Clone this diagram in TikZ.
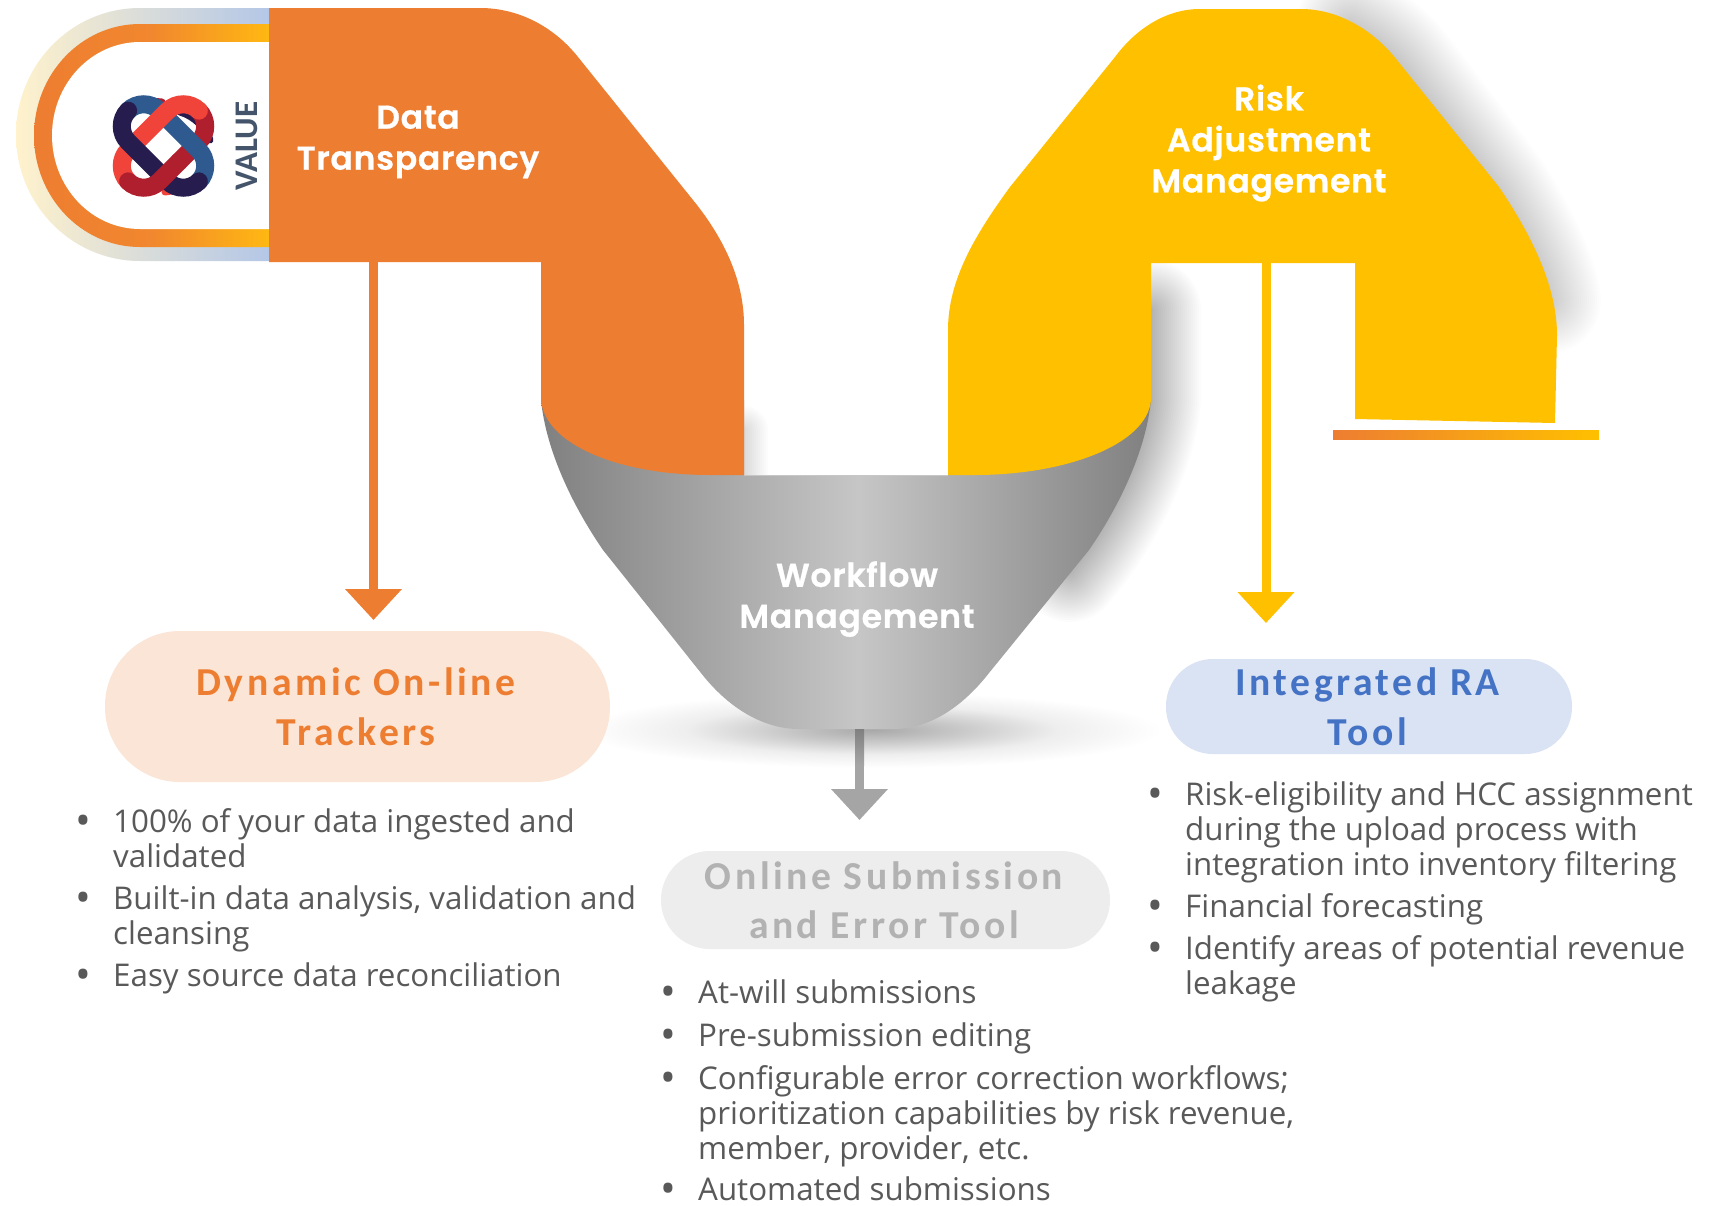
\documentclass[tikz,border=0pt]{standalone}
\usepackage{fontspec}
\usetikzlibrary{arrows.meta}
\setmainfont{Open Sans}
\newfontfamily\titlefont[LetterSpace=2.2,FakeBold=0.7]{Poppins SemiBold}
\newfontfamily\headfont[LetterSpace=9]{Carlito}
\newfontfamily\valuefont{Carlito}
\definecolor{cOrange}{HTML}{ED7D31}
\definecolor{cYellow}{HTML}{FFC000}
\definecolor{cGreyArrow}{HTML}{A5A5A5}
\definecolor{cBody}{HTML}{595959}
\definecolor{cNavy}{HTML}{261C4E}
\definecolor{cBlue}{HTML}{2F5A8F}
\definecolor{cRed}{HTML}{F0443A}
\definecolor{cDark}{HTML}{B01F2E}
\definecolor{fEdge}{HTML}{808080}
\definecolor{fMid}{HTML}{C6C6C6}
\definecolor{sA}{HTML}{A8A8A8}
\definecolor{sB}{HTML}{CACACA}
\definecolor{sC}{HTML}{EEEEEE}
\pgfdeclarehorizontalshading{funnelshade}{100bp}{color(0bp)=(fEdge); color(25bp)=(fEdge); color(51bp)=(fMid); color(75bp)=(fEdge); color(100bp)=(fEdge)}
\pgfdeclareradialshading{softell}{\pgfpoint{0bp}{0bp}}{color(0bp)=(sA); color(8bp)=(sB); color(16bp)=(sC); color(25bp)=(white); color(50bp)=(white)}
\tikzset{
  x=1pt,y=-1pt,
  titletext/.style={text=white,align=center,font=\titlefont\fontsize{33}{41}\selectfont},
  pilltext/.style={align=center,font=\headfont\bfseries\fontsize{39.6}{49.5}\selectfont},
  itemtext/.style={anchor=north west,inner sep=0pt,text=cBody,align=left,font=\fontsize{31.3}{35}\selectfont},
  itemdot/.style={anchor=center,inner sep=0pt,text=cBody,font=\fontsize{42}{35}\selectfont},
  flowarrow/.style={line width=9pt,-{Triangle[width=55pt,length=31pt]}},
  softshadow/.style={line cap=round,line join=round,draw=black,draw opacity=0.009},
  softshadowb/.style={line cap=round,line join=round,draw=black,draw opacity=0.011},
  logoband/.style={line width=18pt,line cap=round},
  logostrand/.style={line width=7pt,line cap=round}
}
\newcommand{\bulitem}[4]{%
  \node[itemdot] (#1dot) at (#2-30,#3+17) {•};
  \node[itemtext] (#1) at (#2,#3) {\rule{0pt}{24.5pt}#4};}
\begin{document}
\begin{tikzpicture}
\useasboundingbox (0,0) rectangle (1721,1205);
\fill[white] (0,0) rectangle (1721,1205);
% soft shadows
\foreach \w in {4,8,...,110}{\draw[softshadow,line width=\w pt] (1350,25) .. controls (1365,33) and (1385,45) .. (1400,62) -- (1497,190) .. controls (1528,240) and (1545,280) .. (1547,300);}
\foreach \w in {4,8,...,100}{\draw[softshadowb,line width=\w pt] (1151,310) -- (1151,400) .. controls (1146,450) and (1120,505) .. (1086,552) -- (1070,572);}
\foreach \w in {4,8,...,50}{\draw[softshadowb,line width=\w pt] (744,430) -- (744,475);}
\path[shading=softell] (872,730) ellipse [x radius=290,y radius=38];
% funnel
\path[shading=funnelshade] (541,400) .. controls (546,450) and (572,505) .. (603,550) -- (701,673) .. controls (730,710) and (765,729) .. (799,729) -- (893,729) .. controls (927,729) and (960,710) .. (989,673) -- (1089,550) .. controls (1120,505) and (1146,450) .. (1151,400) -- (948,400) -- (948,475) -- (744,475) -- (744,400) -- cycle;
\draw[fMid,line width=1pt] (744,475) -- (948,475);
% value ring
\shade[left color={rgb,255:red,255;green,242;blue,204},right color={rgb,255:red,180;green,199;blue,231}] (269,8) -- (140,8) arc[start angle=90,end angle=270,x radius=124,y radius=-126.5] -- (269,261) -- cycle;
\shade[left color=cOrange,right color={rgb,255:red,255;green,184;blue,18},middle color={rgb,255:red,241;green,135;blue,46}] (269,24) -- (140,24) arc[start angle=90,end angle=270,x radius=106,y radius=-111.5] -- (269,247) -- cycle;
\fill[white] (269,42) -- (140,42) arc[start angle=90,end angle=270,x radius=88,y radius=-93.5] -- (269,229) -- cycle;
% logo
\draw[logostrand,cDark] (128,118) .. controls (136,106) and (150,100) .. (162,102);
\draw[logostrand,cRed] (165,192) .. controls (180,190) and (192,186) .. (198,175);
\draw[logostrand,cNavy] (180,112) .. controls (194,116) and (206,128) .. (210,140);
\draw[logostrand,cBlue] (120,155) .. controls (121,168) and (126,178) .. (135,184);
\begin{scope}[shift={(163.5,146)},rotate=45]
\draw[logoband,cDark] (0,22) -- (28,22) .. controls (40,22) and (50,12) .. (50,0);
\draw[logoband,cBlue] (0,-50) .. controls (12,-50) and (22,-40) .. (22,-28) -- (22,28) .. controls (22,40) and (12,50) .. (0,50);
\draw[logoband,cRed] (50,0) .. controls (50,-12) and (40,-22) .. (28,-22) -- (-28,-22) .. controls (-40,-22) and (-50,-12) .. (-50,0);
\draw[logoband,cNavy] (0,-50) .. controls (-12,-50) and (-22,-40) .. (-22,-28) -- (-22,28) .. controls (-22,40) and (-12,50) .. (0,50);
\draw[logoband,cDark] (-50,0) .. controls (-50,12) and (-40,22) .. (-28,22) -- (0,22);
\end{scope}
\node[rotate=90,text={rgb,255:red,68;green,84;blue,106},font=\valuefont\bfseries\fontsize{33}{33}\selectfont,inner sep=0pt] (value) at (247,146) {VALUE};
% orange band
\fill[cOrange] (269,8) -- (480,8) .. controls (520,8) and (555,28) .. (578,57) -- (697,205) .. controls (728,245) and (744,285) .. (744,325) -- (744,475) -- (710,475) .. controls (620,475) and (545,445) .. (541,400) -- (541,262) -- (269,262) -- cycle;
% yellow band
\fill[cYellow] (1200,9) -- (1301,9) .. controls (1340,9) and (1375,32) .. (1397,60) -- (1499,187) .. controls (1535,240) and (1557,290) .. (1557,335) -- (1555,423) -- (1355,419) -- (1355,263) -- (1151,263) -- (1151,400) .. controls (1147,445) and (1065,475) .. (975,475) -- (948,475) -- (948,330) .. controls (948,280) and (975,235) .. (1010,187) -- (1115,57) .. controls (1135,30) and (1165,9) .. (1200,9) -- cycle;
\shade[left color=cOrange,right color=cYellow] (1333,430) rectangle (1599,439);
% band titles
\node[titletext] (data) at (418,142) {Data\\Transparency};
\node[titletext] (risk) at (1269,143) {Risk\\Adjustment\\Management};
\node[titletext] (flow) at (857,599) {Workflow\\Management};
% pills
\node[fill={rgb,255:red,251;green,229;blue,214},rounded corners=75pt,minimum width=505pt,minimum height=151pt,inner sep=0pt,text=cOrange,pilltext] (dyn) at (357.5,706.5) {\kern-3pt Dynamic On-line\\\kern-3pt Trackers};
\node[fill={rgb,255:red,218;green,227;blue,243},rounded corners=47pt,minimum width=406pt,minimum height=95pt,inner sep=0pt,text={rgb,255:red,68;green,114;blue,196},pilltext] (ra) at (1369,706.5) {\kern-3pt Integrated RA\\\kern-3pt Tool};
\node[fill={rgb,255:red,237;green,237;blue,237},rounded corners=49pt,minimum width=449pt,minimum height=98pt,inner sep=0pt,text={rgb,255:red,178;green,178;blue,178},pilltext] (sub) at (885.5,900) {\kern-3pt Online Submission\\\kern-3pt and Error Tool};
% arrows
\coordinate (aStart) at (373.5,262);
\coordinate (aEnd) at (373.5,620);
\coordinate (bStart) at (1266,263);
\coordinate (bEnd) at (1266,623);
\coordinate (cStart) at (859.5,729);
\coordinate (cEnd) at (859.5,820);
\draw[flowarrow,cOrange] (aStart) -- (aEnd);
\draw[flowarrow,cYellow] (bStart) -- (bEnd);
\draw[flowarrow,cGreyArrow] (cStart) -- (cEnd);
\shade[top color=fEdge,bottom color=cGreyArrow] (855,729) rectangle (864,765);
% bullet lists
\bulitem{l1}{113}{808}{100\% of your data ingested and\\validated}
\bulitem{l2}{113}{885}{Built-in data analysis, validation and\\cleansing}
\bulitem{l3}{113}{962}{Easy source data reconciliation}
\bulitem{m1}{698}{979}{At-will submissions}
\bulitem{m2}{698}{1022}{Pre-submission editing}
\bulitem{m3}{698}{1065}{Configurable error correction workflows;\\prioritization capabilities by risk revenue,\\member, provider, etc.}
\bulitem{m4}{698}{1176}{Automated submissions}
\bulitem{r1}{1185}{781}{Risk-eligibility and HCC assignment\\during the upload process with\\integration into inventory filtering}
\bulitem{r2}{1185}{893}{Financial forecasting}
\bulitem{r3}{1185}{935}{Identify areas of potential revenue\\leakage}
\end{tikzpicture}
\end{document}
